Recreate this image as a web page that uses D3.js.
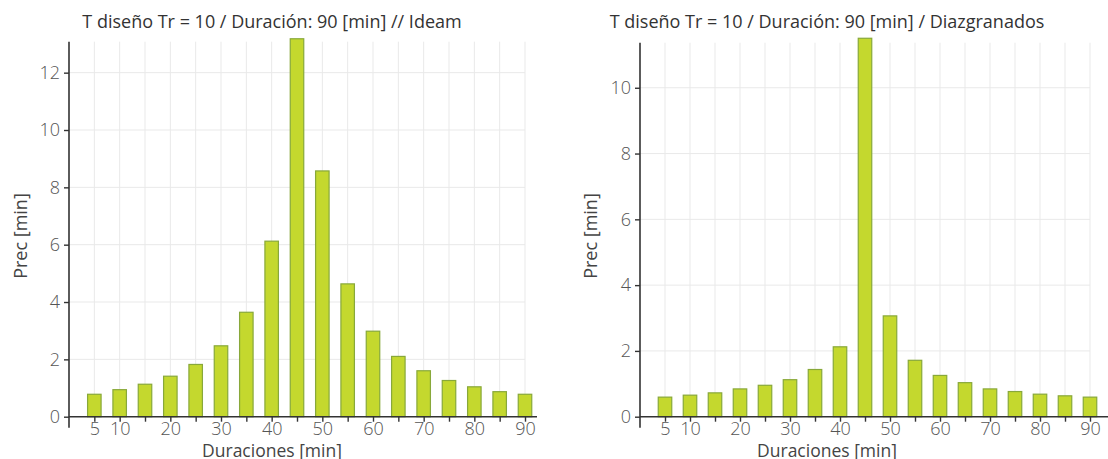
<!DOCTYPE html>
<html>
<head>
<meta charset="utf-8">
<script src="https://cdn.jsdelivr.net/npm/d3@7"></script>
<style>
  html, body { margin: 0; padding: 0; background: #fff; }
  svg { display: block; font-family: "Open Sans", "Noto Sans", sans-serif; }
</style>
</head>
<body>
<svg id="chart" width="1108" height="459"></svg>
<script>
// ---- data ----
const durations = [5,10,15,20,25,30,35,40,45,50,55,60,65,70,75,80,85,90];
const ideam = [0.80,0.96,1.15,1.43,1.84,2.49,3.66,6.14,13.2,8.59,4.65,3.00,2.12,1.62,1.28,1.06,0.89,0.80];
const diazgranados = [0.61,0.67,0.74,0.86,0.97,1.14,1.45,2.14,11.52,3.08,1.73,1.27,1.05,0.86,0.78,0.70,0.65,0.61];
const xLabelTicks = [5,10,20,30,40,50,60,70,80,90];
const yTicksIdeam = [0,2,4,6,8,10,12];
const yTicksDiaz = [0,2,4,6,8,10];
const titles = ["T diseño Tr = 10 / Duración: 90 [min] // Ideam",
                "T diseño Tr = 10 / Duración: 90 [min] / Diazgranados"];
const xTitle = "Duraciones [min]";
const yTitle = "Prec [min]";

const svg = d3.select("#chart");

function panel(cfg) {
  const g = svg.append("g");
  const x = d3.scaleLinear().domain([0, 90]).range([cfg.x0, cfg.x90]);
  const y = d3.scaleLinear().domain([0, cfg.yTop]).range([cfg.zeroY, cfg.topY]);

  // grid
  g.append("g").selectAll("line.v").data(durations).join("line")
    .attr("x1", d => x(d)).attr("x2", d => x(d))
    .attr("y1", cfg.topY).attr("y2", cfg.zeroY)
    .attr("stroke", "#e9e9e9").attr("stroke-width", 1);
  g.append("g").selectAll("line.h").data(cfg.yTicks.filter(d => d > 0)).join("line")
    .attr("x1", cfg.x0).attr("x2", x(90))
    .attr("y1", d => y(d)).attr("y2", d => y(d))
    .attr("stroke", "#e9e9e9").attr("stroke-width", 1);

  // bars
  const bw = 14.5;
  g.append("g").selectAll("rect").data(cfg.values).join("rect")
    .attr("x", (d, i) => x(durations[i]) - bw / 2 + 0.5)
    .attr("y", d => y(d) + 0.5)
    .attr("width", bw - 1)
    .attr("height", d => cfg.zeroY - y(d) - 0.5)
    .attr("fill", "#c4d82e")
    .attr("stroke", "#88a83a")
    .attr("stroke-width", 1.2);

  // x axis
  const xa = g.append("g").attr("transform", `translate(0,${cfg.zeroY})`)
    .call(d3.axisBottom(x).tickValues(durations).tickSize(5).tickPadding(1)
      .tickFormat(d => xLabelTicks.includes(d) ? d : ""));
  xa.select(".domain").attr("d", `M${cfg.x0},0H${cfg.xEnd}`).attr("stroke", "#333").attr("stroke-width", 1.6);
  xa.selectAll(".tick line").attr("stroke", "#333").attr("stroke-width", 1.4);
  xa.selectAll(".tick text").attr("fill", "#555").attr("font-size", 18).attr("font-weight", 300)
    .attr("font-family", "Open Sans, sans-serif");

  // y axis
  const ya = g.append("g").attr("transform", `translate(${cfg.x0},0)`)
    .call(d3.axisLeft(y).tickValues(cfg.yTicks).tickSize(5).tickPadding(4));
  ya.select(".domain").attr("d", `M0,${cfg.topY}V${cfg.zeroY + 11}`).attr("stroke", "#333").attr("stroke-width", 1.6);
  ya.selectAll(".tick line").attr("stroke", "#333").attr("stroke-width", 1.4);
  ya.selectAll(".tick text").attr("fill", "#555").attr("font-size", 18).attr("font-weight", 300)
    .attr("font-family", "Open Sans, sans-serif");

  // titles
  g.append("text").attr("x", cfg.cx).attr("y", 28).attr("text-anchor", "middle")
    .attr("fill", "#333").attr("font-size", 18).text(cfg.title);
  g.append("text").attr("x", cfg.cx).attr("y", 456.5).attr("text-anchor", "middle")
    .attr("fill", "#444").attr("font-size", 17.5).text(xTitle);
  g.append("text").attr("transform", `translate(${cfg.yLabelX},236) rotate(-90)`)
    .attr("text-anchor", "middle").attr("fill", "#444").attr("font-size", 18).text(yTitle);
}

panel({ values: ideam, yTicks: yTicksIdeam, yTop: 13.08, x0: 69, x90: 525, xEnd: 537,
        zeroY: 416.7, topY: 41.7, cx: 272, yLabelX: 27, title: titles[0] });
panel({ values: diazgranados, yTicks: yTicksDiaz, yTop: 11.37, x0: 640, x90: 1090, xEnd: 1108,
        zeroY: 416.7, topY: 42.7, cx: 827, yLabelX: 597, title: titles[1] });
</script>
</body>
</html>
